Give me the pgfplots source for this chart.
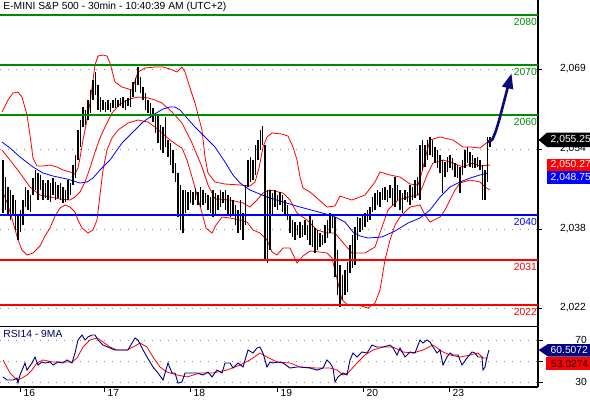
\documentclass[border=0pt]{standalone}
\usepackage{pgfplots}
\pgfplotsset{compat=1.18}
\usepackage{pgfplotstable}
\usepackage{fontspec}
\setmainfont{Liberation Sans}
\usetikzlibrary{arrows.meta}
\definecolor{lvgreen}{RGB}{0,140,0}
\definecolor{pred}{RGB}{255,0,0}
\definecolor{pblue}{RGB}{0,0,255}
\definecolor{pnavy}{RGB}{0,0,128}
\definecolor{arrowcol}{RGB}{10,10,120}
\definecolor{gridgray}{RGB}{140,140,140}
\newcommand{\fs}{\fontsize{10.3}{12}\selectfont}

\pgfplotstableread{
x lo hi
3 2040.4 2051
5.5 2041 2047.6
8 2040 2045.6
10.5 2039 2045
13 2040 2044
15.5 2037 2043
18 2035 2040
20.5 2036.6 2041
23 2038 2043
25.5 2041.6 2045.6
28 2041 2045
30.5 2040.6 2044
33 2044 2047.4
35.5 2045 2049
38 2043 2048.4
40.5 2045 2048
43 2043 2047
45.5 2043.4 2046.4
48 2043 2047
50.5 2042.6 2046.4
53 2044 2047.4
55.5 2043 2046.6
58 2043.4 2046
60.5 2043 2046.4
63 2042.4 2045.6
65.5 2042.6 2045
68 2043 2047
70.5 2044 2046.4
73 2046 2050
75.5 2047.4 2052
78 2051 2057
80.5 2053.6 2059
83 2057.6 2061.6
85.5 2058 2061
88 2059 2063
90.5 2060.4 2065
93 2063 2067
95.5 2064 2068.6
98 2061 2066
100.5 2060.6 2063.6
103 2061 2063
105.5 2060.6 2062.6
108 2061 2063
110.5 2060.6 2062.4
113 2061.4 2063
115.5 2061.4 2063.4
118 2061.6 2063
120.5 2061.8 2063.4
123 2061.4 2063.6
125.5 2061 2063
128 2061.8 2063.4
130.5 2061.6 2065
133 2063.6 2066.6
135.5 2064.6 2067.4
138 2066 2069.6
140.5 2064.4 2067.6
143 2063 2065.6
145.5 2061 2064.4
148 2060.4 2063
150.5 2059.4 2062.4
153 2058.6 2061.4
155.5 2056.4 2060.4
158 2054.4 2060
160.5 2053 2058
163 2052.4 2057.6
165.5 2053.6 2059.6
168 2051.6 2055
170.5 2050 2054.4
173 2048.4 2053
175.5 2046.6 2050.4
178 2039.6 2048.4
180.5 2037 2046
183 2036.4 2045
185.5 2040.4 2045
188 2041 2044.6
190.5 2042.4 2045
193 2042 2044.6
195.5 2043 2045.4
198 2042 2044.6
200.5 2041.6 2045.6
203 2042 2045
205.5 2042.4 2044.4
208 2041 2044
210.5 2040.4 2043.6
213 2039.6 2045
215.5 2040 2044.4
218 2041 2044
220.5 2041.6 2045
223 2042.4 2044.6
225.5 2041 2045
228 2040 2044
230.5 2039.6 2043.6
233 2040 2043
235.5 2038 2042
238 2036.4 2041
240.5 2037 2043
243 2035 2040.4
245.5 2038 2046
248 2045.6 2051
250.5 2046.6 2051.6
253 2047 2051
255.5 2048 2054
258 2051 2055
260.5 2053 2057
262.5 2054 2057.8
265 2031 2054
267.5 2030.4 2045
270 2033 2045
272.5 2040 2044.4
275 2041.6 2045
277.5 2041 2044
280 2042 2044.6
282.5 2040.6 2044
285 2040 2043
287.5 2039 2042
290 2036.4 2040
292.5 2035.6 2039
295 2035 2038.6
297.5 2036 2038
300 2035.4 2038.6
302.5 2035.6 2038
305 2036 2039
307.5 2035 2038
310 2034 2040
312.5 2033.6 2039
315 2032.4 2037.4
317.5 2033 2037
320 2033.6 2036.4
322.5 2034 2036
325 2034.4 2038
327.5 2035.4 2039
330 2036.4 2040.4
332.5 2037.4 2040
335 2027.6 2039.6
337.5 2024 2033
340 2021.6 2030
342.5 2023 2028
345 2024 2029
347.5 2024.6 2030.6
350 2028.4 2034
352.5 2029.4 2036
355 2030 2037.6
357.5 2035 2039.6
360 2036.6 2039.4
362.5 2037 2040
365 2037.6 2040.4
367.5 2038.6 2041
370 2039 2041.6
372.5 2040.6 2043.6
375 2041 2044.4
377.5 2042 2045
380 2041.6 2044.6
382.5 2043 2045.4
385 2043 2045.6
387.5 2042.6 2045
390 2043.4 2046
392.5 2042 2045.4
395 2041.6 2047.6
397.5 2043 2046
400 2041 2045
402.5 2040.4 2044.4
405 2043 2045
407.5 2042.6 2044.6
410 2042 2046
412.5 2043 2045.6
415 2043.4 2047
417.5 2044 2047.6
420 2043 2054
422.5 2049 2055
425 2049.6 2054
427.5 2051 2055
430 2052 2055.6
432.5 2051.6 2055
435 2050.4 2053.6
437.5 2049.4 2053
440 2048.4 2052
442.5 2044.4 2051
445 2047.6 2050.6
447.5 2048.6 2051.6
450 2049.4 2052
452.5 2049 2051.4
455 2047.6 2050.4
457.5 2047.4 2050
460 2044.4 2049.6
462.5 2048 2051
465 2049.4 2053
467.5 2050.4 2053.6
470 2049.6 2052.6
472.5 2049.4 2052
475 2049.4 2051.4
477.5 2049.6 2051.6
480 2049 2051
482.5 2043 2050
485 2043 2049
487.5 2046.6 2055.6
490 2053.6 2055.6
}\bars

\pgfplotstableread{
x y
2 2060.6
8 2063
13 2064.4
18 2064.6
22 2063.6
27 2060
30 2056
33 2051.4
37 2049.8
43 2049.8
50 2050
57 2049.6
63 2049
70 2048.6
75 2048.2
78 2049.4
80 2051.4
83 2055
87 2059
90 2062.4
93 2067
95 2070
98 2071.8
103 2072
107 2071.8
110 2070.4
115 2066.6
122 2065.6
132 2065
138 2068.6
145 2069.4
155 2069.6
163 2069.6
170 2069.2
177 2068.6
182 2069.6
185 2068.6
190 2065.4
195 2062.4
202 2057
205 2051.6
208 2048.4
215 2046.6
225 2046.2
240 2046
250 2045.8
255 2046.6
259 2049.4
263 2053.6
267 2055.6
272 2056.4
282 2056.2
288 2055.8
293 2053.6
297 2051
300 2047.6
303 2045.4
310 2044.6
317 2043.4
327 2041.6
335 2041.8
340 2043.8
352 2043
365 2044
375 2046.6
380 2048.6
390 2048
400 2047.6
410 2046.2
418 2046
422 2048.6
426 2052
430 2055
440 2055.6
453 2055
463 2053.6
470 2053.6
480 2053.4
490 2055
}\bbup

\pgfplotstableread{
x y
2 2053
10 2051
20 2048.4
30 2045.6
40 2044
50 2043.6
60 2043.2
70 2043
75 2043.6
80 2044.6
85 2046.6
90 2049.4
95 2052.6
100 2055.4
105 2057.6
112 2060.4
120 2062.2
130 2063.2
138 2063.6
148 2063.4
155 2063
162 2062.4
172 2060.6
182 2058.4
192 2054.4
202 2049.6
208 2046
215 2043.2
230 2043
243 2042.4
250 2041.6
257 2043
263 2044.4
270 2045
283 2044.4
290 2043
297 2040.4
307 2039
317 2037
327 2036.4
335 2036.4
345 2034
352 2032.4
365 2032.4
375 2033.6
382 2037.6
388 2041
398 2043
408 2043.6
418 2044
422 2045.4
427 2048
433 2050.4
443 2051
453 2050.4
463 2049.6
473 2050.4
480 2049.8
490 2050
}\bbmid

\pgfplotstableread{
x y
2 2045
8 2042
13 2038.6
18 2035
22 2033
27 2032
33 2032.4
40 2033.8
45 2035.8
50 2037.4
55 2039.8
60 2041.4
65 2042
70 2041.6
75 2040.6
78 2039
82 2037.4
88 2036.4
93 2037
97 2039
100 2044
103 2049
107 2053
112 2055.4
118 2057
128 2058.4
138 2059
148 2058.6
155 2057.6
162 2056.4
170 2055
177 2054
182 2053.4
187 2051
192 2047.6
197 2044
202 2040.4
206 2037.4
212 2036.4
216 2038
222 2039.6
230 2039.4
240 2039
247 2038.6
253 2037
260 2036.4
267 2035
272 2032.6
277 2032
283 2033.4
290 2033.4
297 2030.4
303 2031.8
310 2032.8
320 2032.6
327 2032.4
332 2031.4
338 2026.4
342 2023
348 2022
358 2022
368 2021.4
375 2022.4
380 2025
385 2031
390 2035
395 2038
400 2039.6
410 2041.6
420 2042
425 2040
430 2038.6
440 2039.6
445 2041
450 2043
455 2045
460 2046.4
470 2047
480 2046.6
485 2045.6
490 2045
}\bblow

\pgfplotstableread{
x y
2 2054.6
10 2053.4
20 2051.6
33 2049.6
43 2048.4
53 2047.8
67 2047.2
80 2046.4
87 2046.6
93 2047.4
100 2049
110 2051
122 2054.4
133 2056.6
143 2058.6
153 2060
163 2061.2
170 2061.6
175 2061.6
180 2061
187 2059.4
195 2057.6
205 2055.6
215 2053.6
225 2050.6
233 2048
240 2046.4
250 2045
267 2043.6
283 2042.6
300 2041.6
315 2040.8
333 2039.8
345 2038.6
353 2036.6
360 2035.8
368 2035.4
382 2035.6
395 2036.8
408 2038.4
420 2039.4
430 2041
440 2043.6
450 2045.6
460 2046.6
470 2047.4
480 2048
488 2048.4
}\mablue

\pgfplotstableread{
x y
3 34.8
7 31.9
13 31.9
17 33.8
18 29.0
20 36.7
25 48.1
27 41.4
32 48.1
35 53.8
38 46.2
42 49.0
45 48.1
50 49.0
53 46.2
58 49.0
63 48.1
67 51.0
72 48.1
75 57.6
78 70.0
82 74.8
85 70.0
88 72.9
92 74.8
95 74.8
98 70.0
103 65.2
110 62.4
115 60.5
120 60.5
128 60.5
132 67.1
135 71.9
138 70.0
142 62.4
147 53.8
153 44.3
158 38.6
163 31.9
168 48.1
172 38.6
175 38.6
178 29.0
182 30.0
185 38.6
190 38.6
197 38.6
203 36.7
208 39.5
212 34.8
217 41.4
222 38.6
225 48.1
230 48.1
233 43.3
238 48.1
243 44.3
248 60.5
253 57.6
257 62.4
260 63.3
263 57.6
267 44.3
270 49.0
273 48.1
278 49.0
283 48.1
290 43.3
297 44.3
300 44.3
310 43.3
317 41.4
323 43.3
327 51.0
330 48.1
333 43.3
335 30.0
338 34.8
343 38.6
347 36.7
350 51.0
353 57.6
357 53.8
362 58.6
367 57.6
372 65.2
377 63.3
383 63.3
390 65.2
393 62.4
397 55.7
400 62.4
405 53.8
410 58.6
415 57.6
420 70.0
423 67.1
427 70.0
430 68.1
433 63.3
437 57.6
440 60.5
443 46.2
447 53.8
450 57.6
453 55.7
458 55.7
462 46.2
467 52.9
472 58.6
475 57.6
478 53.8
482 53.8
483 41.4
485 44.3
487 53.8
489 60.5
}\rsi

\pgfplotstableread{
x y
3 51.0
10 38.6
17 31.9
22 33.8
27 36.7
32 41.4
37 48.1
43 51.0
53 49.0
67 49.0
72 49.0
77 52.9
83 63.3
90 70.0
97 71.9
103 68.1
110 63.3
117 60.5
127 60.5
133 63.3
140 67.1
147 63.3
153 53.8
160 44.3
167 39.5
177 36.7
187 34.8
200 38.6
213 38.6
227 41.4
240 46.2
250 51.0
260 57.6
267 53.8
277 49.0
290 48.1
300 44.3
317 43.3
330 43.3
337 41.4
343 36.7
348 38.6
357 48.1
365 55.7
373 60.5
383 63.3
393 63.3
403 58.6
413 57.6
423 60.5
433 65.2
443 58.6
450 55.7
460 53.8
470 55.7
478 57.6
483 52.9
488 52.9
}\rsima

\begin{document}
\begin{tikzpicture}
\useasboundingbox (0pt,0pt) rectangle (590pt,-400pt);

% ---------------- main price panel ----------------
\begin{axis}[
  at={(0pt,0pt)}, anchor=north west,
  width=538pt, height=326pt, scale only axis,
  xmin=0, xmax=538, ymin=2017.8, ymax=2083,
  axis x line=none, axis y line*=right,
  axis line style={-, black, line width=1.2pt},
  ytick={2021.4,2037.2,2053.2,2069.2},
  yticklabels={{2,022},{2,038},{2,054},{2,069}},
  yticklabel style={font=\fs, anchor=east, inner sep=0pt, xshift=44pt},
  tick align=outside, major tick length=4pt,
  ytick style={black, line width=1pt},
  ymajorgrids, grid style={gridgray, line width=0.8pt, dash pattern=on 0.8pt off 7.2pt},
]
\addplot[pred, line width=0.8pt, mark=none] table {\bbup};
\addplot[pred, line width=0.8pt, mark=none] table {\bbmid};
\addplot[pred, line width=0.8pt, mark=none] table {\bblow};
\addplot[pblue, line width=0.8pt, mark=none] table {\mablue};
\addplot[only marks, mark=*, mark size=0pt, mark options={draw=none, fill=none},
  error bars/.cd, y dir=plus, y explicit, error mark=none,
  error bar style={draw=black, line width=1.25pt}]
  table[x=x, y=lo, y error plus expr=\thisrow{hi}-\thisrow{lo}] {\bars};
\addplot[lvgreen, line width=2pt, mark=none] coordinates {(0,2080) (538,2080)};
\addplot[lvgreen, line width=2pt, mark=none] coordinates {(0,2070) (538,2070)};
\addplot[lvgreen, line width=2pt, mark=none] coordinates {(0,2060) (538,2060)};
\addplot[pblue, line width=2pt, mark=none] coordinates {(0,2040) (538,2040)};
\addplot[pred, line width=2pt, mark=none] coordinates {(0,2031) (538,2031)};
\addplot[pred, line width=2pt, mark=none] coordinates {(0,2022) (538,2022)};
\node[anchor=north east, inner sep=0pt, font=\fs, text=lvgreen] at (axis cs:537,2079.4) {2080};
\node[anchor=north east, inner sep=0pt, font=\fs, text=lvgreen] at (axis cs:537,2069.4) {2070};
\node[anchor=north east, inner sep=0pt, font=\fs, text=lvgreen] at (axis cs:537,2059.4) {2060};
\node[anchor=north east, inner sep=0pt, font=\fs, text=pblue] at (axis cs:537,2039.4) {2040};
\node[anchor=north east, inner sep=0pt, font=\fs, text=pred] at (axis cs:537,2030.4) {2031};
\node[anchor=north east, inner sep=0pt, font=\fs, text=pred] at (axis cs:537,2021.4) {2022};
\draw[arrowcol, line width=2.6pt, -{Triangle[length=15pt,width=11pt]}]
  (axis cs:488,2054.6) -- (axis cs:492,2055.0)
  .. controls (axis cs:497,2056.8) and (axis cs:501,2060.5) .. (axis cs:511.5,2068.3);
\node[anchor=north west, inner sep=0pt, font=\fs] at (rel axis cs:0.006,0.993) {E-MINI S\&P 500 - 30min - 10:40:39 AM (UTC+2)};
\end{axis}

% ---------------- RSI panel ----------------
\begin{axis}[
  at={(0pt,-326pt)}, anchor=north west,
  width=538pt, height=61pt, scale only axis,
  xmin=0, xmax=538, ymin=25.24, ymax=83.33,
  axis x line*=bottom, axis y line*=right,
  axis line style={-, black, line width=1.2pt},
  ytick={30,50,70}, yticklabels={30,,70},
  yticklabel style={font=\fs, anchor=east, inner sep=0pt, xshift=44pt},
  xtick={20,104,190,277,363,449},
  xticklabels={16,17,18,19,20,23},
  xticklabel style={font=\fs, anchor=north west, inner sep=0pt, xshift=3.5pt, yshift=2.5pt},
  tick align=outside, major tick length=5pt,
  tick style={black, line width=1pt},
  ymajorgrids, grid style={gridgray, line width=0.8pt, dash pattern=on 0.8pt off 7.2pt},
]
\addplot[pred, line width=0.8pt, mark=none] table {\rsima};
\addplot[pnavy, line width=0.9pt, mark=none] table {\rsi};
\draw[black, line width=1.2pt] (rel axis cs:0,1) -- (rel axis cs:1,1);
\node[anchor=north west, inner sep=0pt, font=\fs, text=pnavy!70!black] at (rel axis cs:0.006,0.93) {RSI14 - 9MA};
\end{axis}

% ---------------- value tags ----------------
\fill[black] (538.6pt,-140pt) -- (547pt,-132.5pt) -- (596pt,-132.5pt) -- (596pt,-147pt) -- (547pt,-147pt) -- cycle;
\node[anchor=west, inner sep=0pt, font=\fs, text=white] at (550.5pt,-140pt) {2,055.25};
\fill[pred] (547pt,-159pt) rectangle (596pt,-171pt);
\node[anchor=west, inner sep=0pt, font=\fs, text=white] at (550.5pt,-165pt) {2,050.27};
\fill[pblue] (547pt,-171pt) rectangle (596pt,-184pt);
\node[anchor=west, inner sep=0pt, font=\fs, text=white] at (550.5pt,-177.5pt) {2,048.75};
\fill[pnavy] (538.6pt,-350pt) -- (548pt,-344pt) -- (596pt,-344pt) -- (596pt,-356.5pt) -- (548pt,-356.5pt) -- cycle;
\node[anchor=west, inner sep=0pt, font=\fs, text=white] at (550.5pt,-350.2pt) {60.5072};
\fill[pred] (546pt,-357pt) rectangle (596pt,-370pt);
\node[anchor=west, inner sep=0pt, font=\fs, text=black] at (551pt,-363.5pt) {53.0274};
\end{tikzpicture}
\end{document}
